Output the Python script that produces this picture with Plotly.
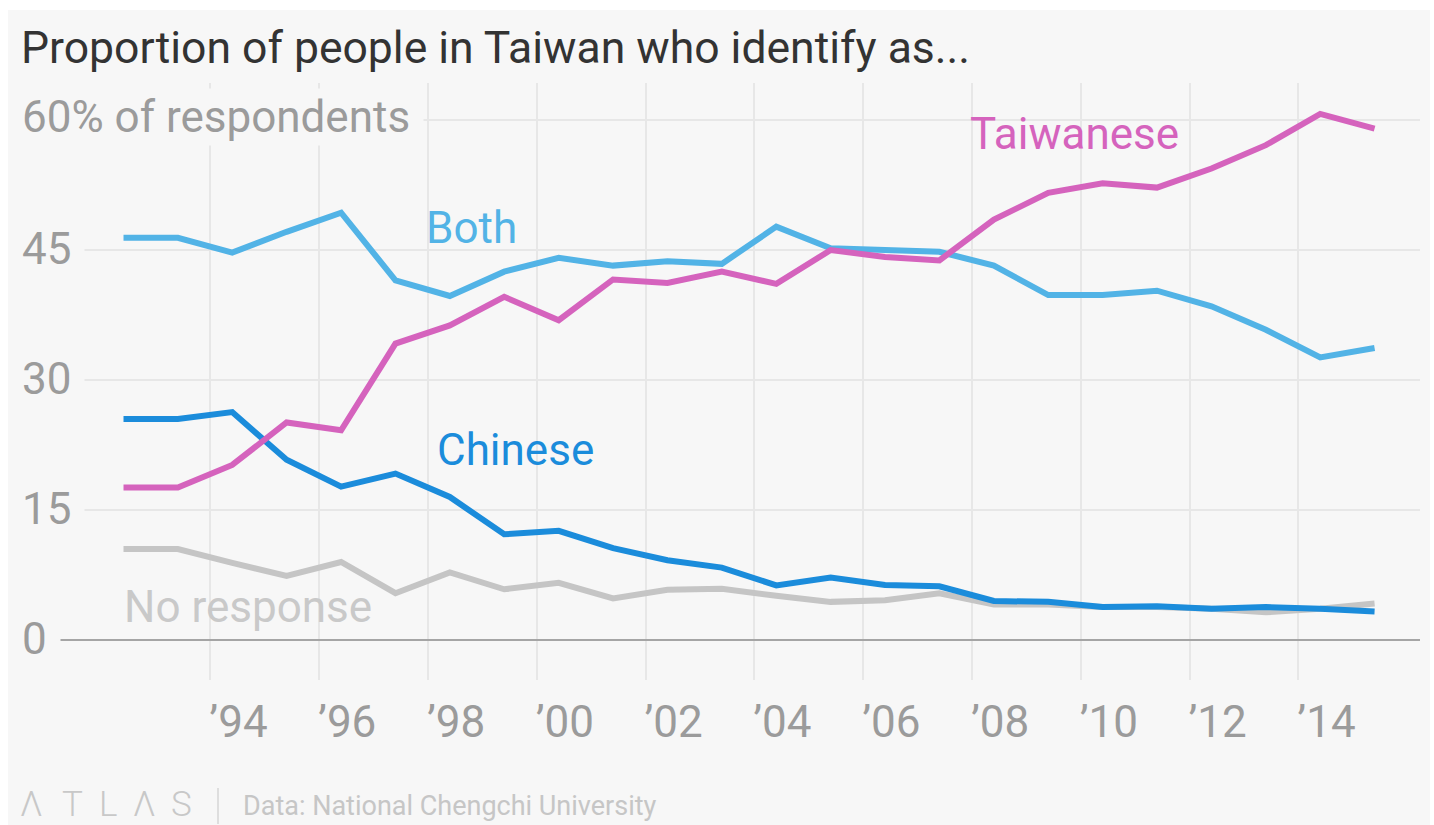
import plotly.graph_objects as go

# ---------------- data ----------------
years = list(range(1992, 2016))
taiwanese = [17.6, 17.6, 20.2, 25.1, 24.2, 34.2, 36.3, 39.6, 36.9, 41.6, 41.2, 42.5,
             41.1, 45.0, 44.2, 43.8, 48.5, 51.6, 52.7, 52.2, 54.4, 57.1, 60.7, 59.0]
both = [46.4, 46.4, 44.7, 47.1, 49.3, 41.5, 39.7, 42.5, 44.1, 43.2, 43.7, 43.4,
        47.7, 45.2, 45.0, 44.8, 43.2, 39.8, 39.8, 40.3, 38.5, 35.8, 32.6, 33.7]
chinese = [25.5, 25.5, 26.3, 20.8, 17.7, 19.2, 16.5, 12.2, 12.6, 10.6, 9.2, 8.35,
           6.3, 7.2, 6.35, 6.2, 4.5, 4.4, 3.8, 3.9, 3.6, 3.8, 3.6, 3.3]
no_response = [10.5, 10.5, 8.9, 7.4, 9.0, 5.4, 7.8, 5.85, 6.6, 4.8, 5.8, 5.9,
               5.1, 4.4, 4.6, 5.4, 4.1, 4.1, 3.8, 3.8, 3.6, 3.2, 3.6, 4.2]

tick_years = [1994, 1996, 1998, 2000, 2002, 2004, 2006, 2008, 2010, 2012, 2014]
tick_labels = ["\u201994", "\u201996", "\u201998", "\u201900", "\u201902", "\u201904",
               "\u201906", "\u201908", "\u201910", "\u201912", "\u201914"]
y_ticks = [0, 15, 30, 45, 60]
y_tick_labels = ["0", "15", "30", "45", "60% of respondents"]

# survey points are dated around the end of May each year
dates = [f"{y}-05-27" for y in years]

W, H = 1434, 825
FONT = "Roboto, 'Noto Sans', sans-serif"
BG = "#f7f7f7"
GRID = "#e7e7e7"
TICK_GREY = "#9b9b9b"

C_TW = "#d563bd"
C_BOTH = "#52b3e6"
C_CN = "#1b8cdb"
C_NR = "#c5c5c5"


def px(x):
    return x / W


def py(y):
    return 1 - y / H


fig = go.Figure()
for name, vals, col in [("No response", no_response, C_NR),
                        ("Chinese", chinese, C_CN),
                        ("Both", both, C_BOTH),
                        ("Taiwanese", taiwanese, C_TW)]:
    fig.add_trace(go.Scatter(x=dates, y=vals, mode="lines", name=name,
                             line=dict(color=col, width=6),
                             hoverinfo="x+y+name"))

annotations = []
# y tick labels with background covering the gridline start
for v, t in zip(y_ticks, y_tick_labels):
    annotations.append(dict(
        x=px(19), xref="paper", xanchor="left",
        y=v, yref="y", yanchor="middle", yshift=(3 if v == 60 else 1),
        text=t + "\u00a0", showarrow=False,
        font=dict(family=FONT, size=44, color=TICK_GREY),
        bgcolor=BG, borderpad=2,
    ))

# series labels
for t, x0, yc, col in [("Taiwanese", 968, 134, C_TW),
                       ("Both", 424, 228, C_BOTH),
                       ("Chinese", 435, 450, C_CN),
                       ("No response", 122, 607, "#c9c9c9")]:
    annotations.append(dict(
        x=px(x0), xref="paper", xanchor="left",
        y=py(yc), yref="paper", yanchor="middle",
        text=t, showarrow=False,
        font=dict(family=FONT, size=44, color=col),
    ))

# title
annotations.append(dict(
    x=px(19), xref="paper", xanchor="left",
    y=py(48), yref="paper", yanchor="middle",
    text="Proportion of people in Taiwan who identify as...", showarrow=False,
    font=dict(family=FONT, size=44.5, color="#333333"),
))

# footer
for letter, xc in [("\u039b", 31.7), ("T", 72.5), ("L", 108), ("\u039b", 144), ("S", 181.5)]:
    annotations.append(dict(
        x=px(xc), xref="paper", xanchor="center",
        y=py(804), yref="paper", yanchor="middle",
        text=letter, showarrow=False,
        font=dict(family=FONT, size=35, color="#c8c8c8", weight=300),
    ))
annotations.append(dict(
    x=px(241), xref="paper", xanchor="left",
    y=py(806), yref="paper", yanchor="middle",
    text="Data: National Chengchi University", showarrow=False,
    font=dict(family=FONT, size=27, color="#c6c6c6"),
))

shapes = [
    dict(type="rect", xref="paper", yref="paper",
         x0=px(8), x1=px(1430), y0=0, y1=py(10),
         fillcolor=BG, line=dict(width=0), layer="below"),
    dict(type="line", xref="paper", yref="paper",
         x0=px(218), x1=px(218), y0=py(788), y1=py(824),
         line=dict(color="#d6d6d6", width=1.5)),
]

fig.update_layout(
    width=W, height=H, autosize=False,
    margin=dict(l=0, r=0, t=0, b=0, pad=0),
    paper_bgcolor="white",
    plot_bgcolor="rgba(0,0,0,0)",
    showlegend=False,
    annotations=annotations,
    shapes=shapes,
    font=dict(family=FONT),
    xaxis=dict(
        type="date",
        domain=[px(20), px(1420)],
        range=["1990-07-02", "2016-03-27"],
        tickvals=[f"{y}-01-01" for y in tick_years],
        ticktext=tick_labels,
        tickfont=dict(family=FONT, size=44, color=TICK_GREY),
        ticklabelshift=28,
        ticklabelstandoff=12,
        ticks="",
        showgrid=True, gridcolor=GRID, gridwidth=1.5,
        zeroline=False, showline=False,
        fixedrange=True,
    ),
    yaxis=dict(
        domain=[py(680), py(83)],
        range=[-4.615, 64.27],
        tickvals=y_ticks,
        showticklabels=False,
        ticks="",
        showgrid=True, gridcolor=GRID, gridwidth=1.5,
        zeroline=True, zerolinecolor="#a5a5a5", zerolinewidth=2,
        showline=False,
        fixedrange=True,
    ),
)

fig.write_html(
    "out.html",
    config={"displayModeBar": False},
    post_script="document.body.style.margin='0';document.body.style.overflow='hidden';",
)
